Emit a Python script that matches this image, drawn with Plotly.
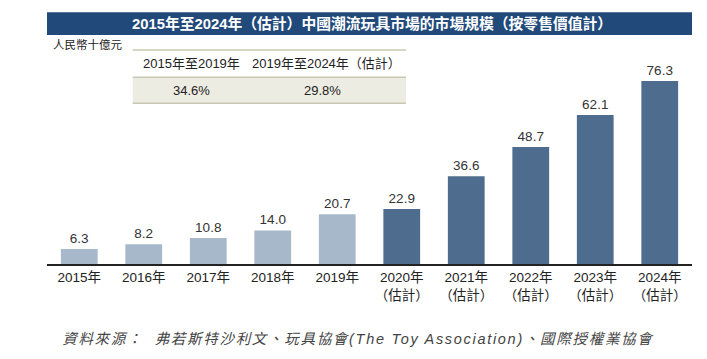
import plotly.graph_objects as go

years = ["2015", "2016", "2017", "2018", "2019", "2020", "2021", "2022", "2023", "2024"]
values = [6.3, 8.2, 10.8, 14.0, 20.7, 22.9, 36.6, 48.7, 62.1, 76.3]
estimated = [False, False, False, False, False, True, True, True, True, True]
tick_labels = [y + "年" + ("<br>（估計）" if e else "") for y, e in zip(years, estimated)]
value_labels = [f"{v:.1f}" for v in values]

title_text = "2015年至2024年（估計）中國潮流玩具市場的市場規模（按零售價值計）"
unit_text = "人民幣十億元"
cagr_headers = ["2015年至2019年", "2019年至2024年（估計）"]
cagr_values = ["34.6%", "29.8%"]
source_text = "資料來源：  弗若斯特沙利文、玩具協會(The Toy Association)、國際授權業協會"

LIGHT = "#A7B8CB"
DARK = "#4E6C8E"
NAVY = "#21497A"
FONT = "Arial, 'Liberation Sans', 'Noto Sans CJK TC', sans-serif"

W, H = 707, 359
ML, MR, MT, MB = 47, 15, 72, 95
PW = W - ML - MR
PH = H - MT - MB


def px(x):
    return (x - ML) / PW


def py(y):
    return (H - MB - y) / PH


fig = go.Figure()
fig.add_trace(go.Bar(
    x=tick_labels,
    y=values,
    marker=dict(color=[DARK if e else LIGHT for e in estimated], line=dict(width=0)),
    width=0.57,
    text=value_labels,
    textposition="outside",
    textfont=dict(size=13.5, color="#333333", family=FONT),
    cliponaxis=False,
    hoverinfo="skip",
))

shapes = []
annotations = []

# title bar
shapes.append(dict(type="rect", xref="paper", yref="paper",
                   x0=px(47), x1=px(692), y0=py(35), y1=py(12.3),
                   fillcolor=NAVY, line=dict(width=0), layer="above"))
annotations.append(dict(text="<b>" + title_text + "</b>", xref="paper", yref="paper",
                        x=px(372), y=py(23.5), xanchor="center", yanchor="middle",
                        showarrow=False, font=dict(size=14.8, color="white", family=FONT)))

# unit label
annotations.append(dict(text=unit_text, xref="paper", yref="paper",
                        x=px(51), y=py(44), xanchor="left", yanchor="middle",
                        showarrow=False, font=dict(size=11.5, color="#222222", family=FONT)))

# CAGR table
TL, TR = 132.7, 406
shapes.append(dict(type="rect", xref="paper", yref="paper",
                   x0=px(TL), x1=px(TR), y0=py(103.3), y1=py(77.3),
                   fillcolor="#EDECE3", line=dict(width=0)))
for yy in (50, 77.3, 103.3):
    shapes.append(dict(type="line", xref="paper", yref="paper",
                       x0=px(TL), x1=px(TR), y0=py(yy), y1=py(yy),
                       line=dict(color="#C9C8B2", width=1.5)))
col_x = [191.7, 326]
val_x = [191.7, 322]
for cx, t in zip(col_x, cagr_headers):
    annotations.append(dict(text=t, xref="paper", yref="paper", x=px(cx), y=py(63),
                            xanchor="center", yanchor="middle", showarrow=False,
                            font=dict(size=13, color="#222222", family=FONT)))
for cx, t in zip(val_x, cagr_values):
    annotations.append(dict(text=t, xref="paper", yref="paper", x=px(cx), y=py(90),
                            xanchor="center", yanchor="middle", showarrow=False,
                            font=dict(size=13, color="#222222", family=FONT)))

# source (letter-spaced via post script, centred so spacing expands symmetrically)
annotations.append(dict(text="<i>" + source_text + "</i>", xref="paper", yref="paper",
                        x=px(358.5), y=py(339), xanchor="center", yanchor="middle",
                        showarrow=False, font=dict(size=14.5, color="#444444", family=FONT)))

fig.update_layout(
    width=W, height=H, autosize=False,
    margin=dict(l=ML, r=MR, t=MT, b=MB, pad=0),
    paper_bgcolor="white", plot_bgcolor="white",
    showlegend=False,
    bargap=0.43,
    shapes=shapes,
    annotations=annotations,
    font=dict(family=FONT, color="#222222"),
    xaxis=dict(showgrid=False, zeroline=False, showline=True, linecolor="#222222", linewidth=1.5,
               ticks="", tickfont=dict(size=13.5, color="#222222", family=FONT),
               fixedrange=True),
    yaxis=dict(range=[0, 80], visible=False, fixedrange=True),
)

post = """
document.body.style.margin='0';document.body.style.overflow='hidden';
function spaceSource(){
  document.querySelectorAll('.annotation-text').forEach(function(t){
    if (t.textContent.indexOf('資料來源') === 0) { t.style.letterSpacing = '1.7px'; }
  });
}
spaceSource(); setTimeout(spaceSource, 0); setTimeout(spaceSource, 200);
"""
fig.write_html("out.html", config={"displayModeBar": False}, post_script=post)
